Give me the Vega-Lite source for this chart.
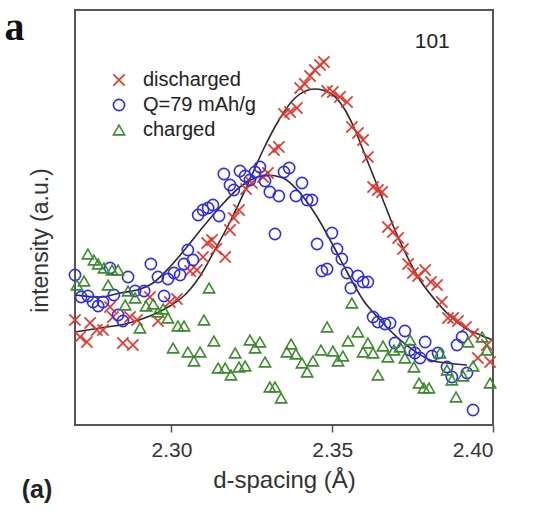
{
"$schema": "https://vega.github.io/schema/vega-lite/v6.json",
"width": 418, "height": 415,
"autosize": {"type": "none"},
"padding": {"left": 75, "top": 10, "right": 42, "bottom": 85},
"background": "white",
"config": {"view": {"stroke": "#555", "strokeWidth": 2}, "font": "Liberation Sans"},
"datasets": {
"points": [
{"series":"discharged","d":2.2700,"intensity":105},{"series":"discharged","d":2.2716,"intensity":88},{"series":"discharged","d":2.2737,"intensity":83},{"series":"discharged","d":2.2747,"intensity":102},{"series":"discharged","d":2.2768,"intensity":95},{"series":"discharged","d":2.2787,"intensity":95},{"series":"discharged","d":2.2809,"intensity":118},{"series":"discharged","d":2.2818,"intensity":108},{"series":"discharged","d":2.2849,"intensity":82},{"series":"discharged","d":2.2880,"intensity":80},{"series":"discharged","d":2.2871,"intensity":108},{"series":"discharged","d":2.2893,"intensity":105},{"series":"discharged","d":2.2933,"intensity":128},{"series":"discharged","d":2.2958,"intensity":104},{"series":"discharged","d":2.2995,"intensity":123},{"series":"discharged","d":2.3017,"intensity":126},{"series":"discharged","d":2.3058,"intensity":154},{"series":"discharged","d":2.3079,"intensity":155},{"series":"discharged","d":2.3098,"intensity":168},{"series":"discharged","d":2.3111,"intensity":182},{"series":"discharged","d":2.3126,"intensity":185},{"series":"discharged","d":2.3139,"intensity":176},{"series":"discharged","d":2.3167,"intensity":168},{"series":"discharged","d":2.3182,"intensity":195},{"series":"discharged","d":2.3194,"intensity":207},{"series":"discharged","d":2.3210,"intensity":215},{"series":"discharged","d":2.3232,"intensity":236},{"series":"discharged","d":2.3250,"intensity":242},{"series":"discharged","d":2.3285,"intensity":248},{"series":"discharged","d":2.3300,"intensity":252},{"series":"discharged","d":2.3319,"intensity":275},{"series":"discharged","d":2.3334,"intensity":278},{"series":"discharged","d":2.3350,"intensity":311},{"series":"discharged","d":2.3369,"intensity":313},{"series":"discharged","d":2.3390,"intensity":317},{"series":"discharged","d":2.3400,"intensity":337},{"series":"discharged","d":2.3415,"intensity":341},{"series":"discharged","d":2.3431,"intensity":349},{"series":"discharged","d":2.3446,"intensity":355},{"series":"discharged","d":2.3462,"intensity":360},{"series":"discharged","d":2.3474,"intensity":363},{"series":"discharged","d":2.3484,"intensity":334},{"series":"discharged","d":2.3502,"intensity":333},{"series":"discharged","d":2.3524,"intensity":328},{"series":"discharged","d":2.3546,"intensity":323},{"series":"discharged","d":2.3561,"intensity":298},{"series":"discharged","d":2.3580,"intensity":292},{"series":"discharged","d":2.3596,"intensity":285},{"series":"discharged","d":2.3611,"intensity":268},{"series":"discharged","d":2.3627,"intensity":238},{"series":"discharged","d":2.3642,"intensity":235},{"series":"discharged","d":2.3655,"intensity":233},{"series":"discharged","d":2.3673,"intensity":198},{"series":"discharged","d":2.3689,"intensity":193},{"series":"discharged","d":2.3705,"intensity":187},{"series":"discharged","d":2.3720,"intensity":176},{"series":"discharged","d":2.3736,"intensity":161},{"series":"discharged","d":2.3751,"intensity":152},{"series":"discharged","d":2.3767,"intensity":149},{"series":"discharged","d":2.3789,"intensity":155},{"series":"discharged","d":2.3807,"intensity":143},{"series":"discharged","d":2.3826,"intensity":140},{"series":"discharged","d":2.3841,"intensity":123},{"series":"discharged","d":2.3860,"intensity":107},{"series":"discharged","d":2.3876,"intensity":107},{"series":"discharged","d":2.3891,"intensity":104},{"series":"discharged","d":2.3916,"intensity":98},{"series":"discharged","d":2.3938,"intensity":91},{"series":"discharged","d":2.3953,"intensity":67},{"series":"discharged","d":2.3981,"intensity":80},{"series":"discharged","d":2.3991,"intensity":63},
{"series":"Q=79 mAh/g","d":2.2700,"intensity":150},{"series":"Q=79 mAh/g","d":2.2719,"intensity":128},{"series":"Q=79 mAh/g","d":2.2740,"intensity":129},{"series":"Q=79 mAh/g","d":2.2756,"intensity":123},{"series":"Q=79 mAh/g","d":2.2772,"intensity":119},{"series":"Q=79 mAh/g","d":2.2787,"intensity":123},{"series":"Q=79 mAh/g","d":2.2809,"intensity":157},{"series":"Q=79 mAh/g","d":2.2821,"intensity":130},{"series":"Q=79 mAh/g","d":2.2834,"intensity":110},{"series":"Q=79 mAh/g","d":2.2849,"intensity":104},{"series":"Q=79 mAh/g","d":2.2865,"intensity":148},{"series":"Q=79 mAh/g","d":2.2887,"intensity":134},{"series":"Q=79 mAh/g","d":2.2915,"intensity":134},{"series":"Q=79 mAh/g","d":2.2936,"intensity":161},{"series":"Q=79 mAh/g","d":2.2958,"intensity":148},{"series":"Q=79 mAh/g","d":2.2977,"intensity":129},{"series":"Q=79 mAh/g","d":2.2989,"intensity":146},{"series":"Q=79 mAh/g","d":2.3008,"intensity":152},{"series":"Q=79 mAh/g","d":2.3027,"intensity":150},{"series":"Q=79 mAh/g","d":2.3039,"intensity":161},{"series":"Q=79 mAh/g","d":2.3051,"intensity":175},{"series":"Q=79 mAh/g","d":2.3067,"intensity":165},{"series":"Q=79 mAh/g","d":2.3083,"intensity":210},{"series":"Q=79 mAh/g","d":2.3098,"intensity":215},{"series":"Q=79 mAh/g","d":2.3114,"intensity":217},{"series":"Q=79 mAh/g","d":2.3129,"intensity":220},{"series":"Q=79 mAh/g","d":2.3148,"intensity":209},{"series":"Q=79 mAh/g","d":2.3163,"intensity":251},{"series":"Q=79 mAh/g","d":2.3182,"intensity":240},{"series":"Q=79 mAh/g","d":2.3194,"intensity":235},{"series":"Q=79 mAh/g","d":2.3213,"intensity":254},{"series":"Q=79 mAh/g","d":2.3229,"intensity":249},{"series":"Q=79 mAh/g","d":2.3244,"intensity":245},{"series":"Q=79 mAh/g","d":2.3260,"intensity":253},{"series":"Q=79 mAh/g","d":2.3275,"intensity":258},{"series":"Q=79 mAh/g","d":2.3291,"intensity":244},{"series":"Q=79 mAh/g","d":2.3306,"intensity":233},{"series":"Q=79 mAh/g","d":2.3322,"intensity":191},{"series":"Q=79 mAh/g","d":2.3334,"intensity":229},{"series":"Q=79 mAh/g","d":2.3350,"intensity":253},{"series":"Q=79 mAh/g","d":2.3366,"intensity":257},{"series":"Q=79 mAh/g","d":2.3387,"intensity":229},{"series":"Q=79 mAh/g","d":2.3406,"intensity":242},{"series":"Q=79 mAh/g","d":2.3422,"intensity":225},{"series":"Q=79 mAh/g","d":2.3437,"intensity":225},{"series":"Q=79 mAh/g","d":2.3453,"intensity":181},{"series":"Q=79 mAh/g","d":2.3468,"intensity":154},{"series":"Q=79 mAh/g","d":2.3484,"intensity":156},{"series":"Q=79 mAh/g","d":2.3499,"intensity":192},{"series":"Q=79 mAh/g","d":2.3515,"intensity":176},{"series":"Q=79 mAh/g","d":2.3530,"intensity":166},{"series":"Q=79 mAh/g","d":2.3546,"intensity":152},{"series":"Q=79 mAh/g","d":2.3558,"intensity":137},{"series":"Q=79 mAh/g","d":2.3580,"intensity":149},{"series":"Q=79 mAh/g","d":2.3596,"intensity":143},{"series":"Q=79 mAh/g","d":2.3611,"intensity":143},{"series":"Q=79 mAh/g","d":2.3627,"intensity":108},{"series":"Q=79 mAh/g","d":2.3642,"intensity":103},{"series":"Q=79 mAh/g","d":2.3664,"intensity":101},{"series":"Q=79 mAh/g","d":2.3680,"intensity":102},{"series":"Q=79 mAh/g","d":2.3695,"intensity":82},{"series":"Q=79 mAh/g","d":2.3726,"intensity":94},{"series":"Q=79 mAh/g","d":2.3742,"intensity":75},{"series":"Q=79 mAh/g","d":2.3757,"intensity":72},{"series":"Q=79 mAh/g","d":2.3773,"intensity":67},{"series":"Q=79 mAh/g","d":2.3789,"intensity":83},{"series":"Q=79 mAh/g","d":2.3810,"intensity":69},{"series":"Q=79 mAh/g","d":2.3829,"intensity":72},{"series":"Q=79 mAh/g","d":2.3857,"intensity":58},{"series":"Q=79 mAh/g","d":2.3872,"intensity":48},{"series":"Q=79 mAh/g","d":2.3888,"intensity":80},{"series":"Q=79 mAh/g","d":2.3904,"intensity":88},{"series":"Q=79 mAh/g","d":2.3919,"intensity":52},{"series":"Q=79 mAh/g","d":2.3938,"intensity":15},
{"series":"charged","d":2.2706,"intensity":140},{"series":"charged","d":2.2728,"intensity":144},{"series":"charged","d":2.2740,"intensity":171},{"series":"charged","d":2.2759,"intensity":165},{"series":"charged","d":2.2772,"intensity":161},{"series":"charged","d":2.2790,"intensity":157},{"series":"charged","d":2.2803,"intensity":140},{"series":"charged","d":2.2815,"intensity":155},{"series":"charged","d":2.2834,"intensity":155},{"series":"charged","d":2.2856,"intensity":120},{"series":"charged","d":2.2865,"intensity":134},{"series":"charged","d":2.2887,"intensity":127},{"series":"charged","d":2.2902,"intensity":97},{"series":"charged","d":2.2921,"intensity":119},{"series":"charged","d":2.2943,"intensity":121},{"series":"charged","d":2.2958,"intensity":113},{"series":"charged","d":2.2974,"intensity":116},{"series":"charged","d":2.2989,"intensity":107},{"series":"charged","d":2.3005,"intensity":77},{"series":"charged","d":2.3020,"intensity":99},{"series":"charged","d":2.3039,"intensity":99},{"series":"charged","d":2.3051,"intensity":73},{"series":"charged","d":2.3070,"intensity":64},{"series":"charged","d":2.3089,"intensity":73},{"series":"charged","d":2.3101,"intensity":105},{"series":"charged","d":2.3117,"intensity":137},{"series":"charged","d":2.3132,"intensity":84},{"series":"charged","d":2.3145,"intensity":57},{"series":"charged","d":2.3167,"intensity":57},{"series":"charged","d":2.3185,"intensity":50},{"series":"charged","d":2.3198,"intensity":72},{"series":"charged","d":2.3210,"intensity":58},{"series":"charged","d":2.3229,"intensity":59},{"series":"charged","d":2.3244,"intensity":85},{"series":"charged","d":2.3260,"intensity":77},{"series":"charged","d":2.3275,"intensity":83},{"series":"charged","d":2.3291,"intensity":63},{"series":"charged","d":2.3306,"intensity":38},{"series":"charged","d":2.3322,"intensity":38},{"series":"charged","d":2.3341,"intensity":27},{"series":"charged","d":2.3359,"intensity":73},{"series":"charged","d":2.3372,"intensity":81},{"series":"charged","d":2.3387,"intensity":71},{"series":"charged","d":2.3406,"intensity":62},{"series":"charged","d":2.3422,"intensity":53},{"series":"charged","d":2.3440,"intensity":64},{"series":"charged","d":2.3465,"intensity":75},{"series":"charged","d":2.3484,"intensity":98},{"series":"charged","d":2.3502,"intensity":74},{"series":"charged","d":2.3518,"intensity":64},{"series":"charged","d":2.3533,"intensity":69},{"series":"charged","d":2.3549,"intensity":84},{"series":"charged","d":2.3561,"intensity":122},{"series":"charged","d":2.3580,"intensity":93},{"series":"charged","d":2.3596,"intensity":73},{"series":"charged","d":2.3611,"intensity":82},{"series":"charged","d":2.3627,"intensity":72},{"series":"charged","d":2.3642,"intensity":50},{"series":"charged","d":2.3658,"intensity":79},{"series":"charged","d":2.3673,"intensity":68},{"series":"charged","d":2.3692,"intensity":75},{"series":"charged","d":2.3711,"intensity":78},{"series":"charged","d":2.3726,"intensity":67},{"series":"charged","d":2.3742,"intensity":85},{"series":"charged","d":2.3754,"intensity":58},{"series":"charged","d":2.3770,"intensity":42},{"series":"charged","d":2.3785,"intensity":37},{"series":"charged","d":2.3801,"intensity":37},{"series":"charged","d":2.3835,"intensity":72},{"series":"charged","d":2.3857,"intensity":55},{"series":"charged","d":2.3872,"intensity":45},{"series":"charged","d":2.3885,"intensity":28},{"series":"charged","d":2.3907,"intensity":49},{"series":"charged","d":2.3922,"intensity":83},{"series":"charged","d":2.3938,"intensity":59},{"series":"charged","d":2.3966,"intensity":88},{"series":"charged","d":2.3981,"intensity":75},{"series":"charged","d":2.3991,"intensity":42}
],
"fits": [
{"curve":"discharged","d":2.2700,"intensity":93},{"curve":"discharged","d":2.2778,"intensity":97},{"curve":"discharged","d":2.2856,"intensity":101},{"curve":"discharged","d":2.2933,"intensity":109},{"curve":"discharged","d":2.2995,"intensity":119},{"curve":"discharged","d":2.3048,"intensity":132},{"curve":"discharged","d":2.3089,"intensity":149},{"curve":"discharged","d":2.3135,"intensity":175},{"curve":"discharged","d":2.3182,"intensity":203},{"curve":"discharged","d":2.3235,"intensity":239},{"curve":"discharged","d":2.3285,"intensity":275},{"curve":"discharged","d":2.3338,"intensity":307},{"curve":"discharged","d":2.3384,"intensity":327},{"curve":"discharged","d":2.3446,"intensity":336},{"curve":"discharged","d":2.3493,"intensity":332},{"curve":"discharged","d":2.3540,"intensity":315},{"curve":"discharged","d":2.3571,"intensity":295},{"curve":"discharged","d":2.3602,"intensity":270},{"curve":"discharged","d":2.3633,"intensity":245},{"curve":"discharged","d":2.3664,"intensity":220},{"curve":"discharged","d":2.3695,"intensity":195},{"curve":"discharged","d":2.3726,"intensity":173},{"curve":"discharged","d":2.3773,"intensity":145},{"curve":"discharged","d":2.3820,"intensity":125},{"curve":"discharged","d":2.3866,"intensity":109},{"curve":"discharged","d":2.3913,"intensity":97},{"curve":"discharged","d":2.3960,"intensity":90},{"curve":"discharged","d":2.4000,"intensity":85},
{"curve":"Q=79 mAh/g","d":2.2700,"intensity":130},{"curve":"Q=79 mAh/g","d":2.2778,"intensity":128},{"curve":"Q=79 mAh/g","d":2.2840,"intensity":132},{"curve":"Q=79 mAh/g","d":2.2893,"intensity":135},{"curve":"Q=79 mAh/g","d":2.2943,"intensity":142},{"curve":"Q=79 mAh/g","d":2.2995,"intensity":158},{"curve":"Q=79 mAh/g","d":2.3048,"intensity":178},{"curve":"Q=79 mAh/g","d":2.3098,"intensity":198},{"curve":"Q=79 mAh/g","d":2.3151,"intensity":218},{"curve":"Q=79 mAh/g","d":2.3213,"intensity":238},{"curve":"Q=79 mAh/g","d":2.3260,"intensity":247},{"curve":"Q=79 mAh/g","d":2.3297,"intensity":250},{"curve":"Q=79 mAh/g","d":2.3347,"intensity":247},{"curve":"Q=79 mAh/g","d":2.3400,"intensity":232},{"curve":"Q=79 mAh/g","d":2.3453,"intensity":208},{"curve":"Q=79 mAh/g","d":2.3502,"intensity":180},{"curve":"Q=79 mAh/g","d":2.3546,"intensity":153},{"curve":"Q=79 mAh/g","d":2.3596,"intensity":125},{"curve":"Q=79 mAh/g","d":2.3649,"intensity":105},{"curve":"Q=79 mAh/g","d":2.3701,"intensity":88},{"curve":"Q=79 mAh/g","d":2.3751,"intensity":75},{"curve":"Q=79 mAh/g","d":2.3804,"intensity":65},{"curve":"Q=79 mAh/g","d":2.3857,"intensity":62},{"curve":"Q=79 mAh/g","d":2.3919,"intensity":60}
]
},
"layer": [
{
"data": {"name": "fits"},
"mark": {"type": "line", "color": "#2a2a2a", "strokeWidth": 1.6, "interpolate": "monotone"},
"encoding": {
"x": {"field": "d", "type": "quantitative", "scale": {"domain": [2.27, 2.40], "nice": false, "zero": false},
"axis": {"values": [2.30, 2.35, 2.40], "format": ".2f", "title": "d-spacing (Å)", "grid": false, "domain": false,
"labelFontSize": 21, "labelColor": "#333", "tickColor": "#555", "tickSize": 7, "tickWidth": 1.5, "labelPadding": 7,
"titleFontSize": 24, "titleFontWeight": "normal", "titleColor": "#333", "titlePadding": 8}},
"y": {"field": "intensity", "type": "quantitative", "scale": {"domain": [0, 415], "nice": false, "zero": false},
"axis": {"title": "intensity (a.u.)", "labels": false, "ticks": false, "domain": false, "grid": false,
"titleFontSize": 23, "titleFontWeight": "normal", "titleColor": "#333", "titlePadding": 23, "titleY": 230}},
"detail": {"field": "curve", "type": "nominal"}
}
},
{
"data": {"name": "points"},
"mark": {"type": "point", "filled": false, "strokeWidth": 1.6, "size": 125, "opacity": 1},
"encoding": {
"x": {"field": "d", "type": "quantitative"},
"y": {"field": "intensity", "type": "quantitative"},
"color": {"field": "series", "type": "nominal",
"scale": {"domain": ["discharged", "Q=79 mAh/g", "charged"], "range": ["#e8352b", "#2d2df2", "#3c8c2e"]},
"legend": {"title": null, "orient": "none", "legendX": 34, "legendY": 60, "labelFontSize": 20, "labelColor": "#222", "symbolSize": 125, "symbolStrokeWidth": 1.6, "rowPadding": 5, "labelOffset": 14}},
"shape": {"field": "series", "type": "nominal",
"scale": {"domain": ["discharged", "Q=79 mAh/g", "charged"], "range": ["M-1,-1L1,1M-1,1L1,-1", "circle", "triangle-up"]},
"legend": {"title": null, "orient": "none", "legendX": 34, "legendY": 60, "labelFontSize": 20, "labelColor": "#222", "symbolSize": 125, "symbolStrokeWidth": 1.6, "rowPadding": 5, "labelOffset": 14}}
}
},
{
"data": {"values": [{}]},
"mark": {"type": "text", "text": "101", "fontSize": 21, "color": "#222", "font": "Liberation Sans"},
"encoding": {"x": {"datum": 2.3811, "type": "quantitative"}, "y": {"datum": 383, "type": "quantitative"}}
},
{
"data": {"values": [{}]},
"mark": {"type": "text", "text": "a", "fontSize": 40, "fontWeight": "bold", "color": "#111", "font": "Liberation Serif"},
"encoding": {"x": {"datum": 2.2512, "type": "quantitative"}, "y": {"datum": 397, "type": "quantitative"}}
},
{
"data": {"values": [{}]},
"mark": {"type": "text", "text": "(a)", "fontSize": 25, "fontWeight": "bold", "color": "#222", "font": "Liberation Sans"},
"encoding": {"x": {"datum": 2.2582, "type": "quantitative"}, "y": {"datum": -65, "type": "quantitative"}}
}
]
}
